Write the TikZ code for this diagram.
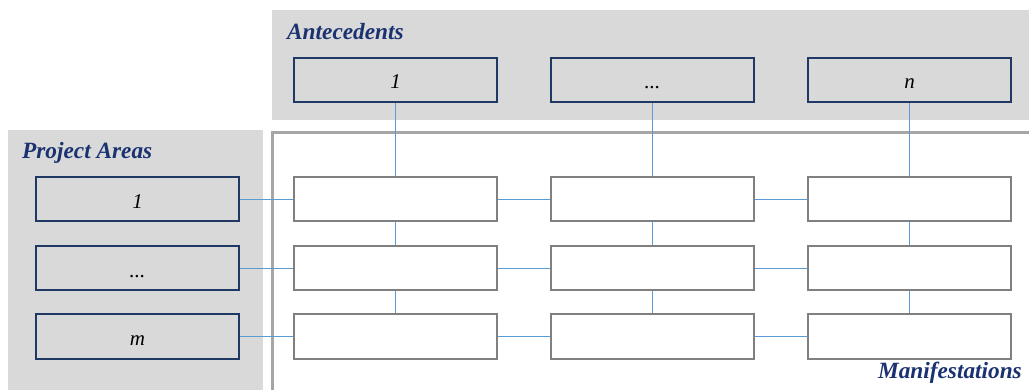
\documentclass[tikz,border=0pt]{standalone}
\usepackage{fontspec}
\setmainfont{Liberation Serif}
\definecolor{panelgrey}{HTML}{D9D9D9}
\definecolor{navy}{HTML}{1A3270}
\definecolor{boxnavy}{HTML}{1F3864}
\definecolor{framegrey}{HTML}{A6A6A6}
\definecolor{boxgrey}{HTML}{808080}
\definecolor{linkblue}{HTML}{5B9BD5}
\tikzset{
  panel/.style={fill=panelgrey, draw=none},
  itembox/.style={draw=boxnavy, line width=2pt, fill=panelgrey, minimum width=203pt, minimum height=44pt,
    inner sep=0pt, text height=18pt, text depth=0pt, font=\fontsize{21}{24}\selectfont\itshape},
  cellbox/.style={draw=boxgrey, line width=2pt, fill=white, minimum width=203pt, minimum height=44pt, inner sep=0pt},
  heading/.style={text=navy, font=\fontsize{23.3}{26}\selectfont\bfseries\itshape, inner sep=0pt},
  link/.style={draw=linkblue, line width=1pt}
}
\begin{document}
\begin{tikzpicture}[x=1pt, y=-1pt]
\useasboundingbox (0,0) rectangle (1029,390);
\clip (0,0) rectangle (1029,390);

% background panels
\fill[panelgrey] (272,10) rectangle (1035,120);
\fill[panelgrey] (8,130) rectangle (263,400);

% manifestations frame (open to the right and bottom)
\draw[framegrey, line width=3pt] (272,400) -- (272,133) -- (1040,133);

% headings
\node[heading, anchor=base west] (hant) at (287,40) {Antecedents};
\node[heading, anchor=base west] (hproj) at (22,159) {Project Areas};
\node[heading, anchor=base east] (hman) at (1022,378) {Manifestations};

% antecedents
\node[itembox] (a1) at (395.5,80) {1};
\node[itembox] (a2) at (652.5,80) {...};
\node[itembox] (a3) at (909.5,80) {n};

% project areas
\node[itembox] (p1) at (137.5,199.5) {1};
\node[itembox] (p2) at (137.5,268.5) {...};
\node[itembox] (p3) at (137.5,336.5) {m};

% manifestation cells
\foreach \c/\x in {1/395.5, 2/652.5, 3/909.5}{
  \foreach \r/\y in {1/199.5, 2/268.5, 3/336.5}{
    \node[cellbox] (m\r\c) at (\x,\y) {};
  }
}

% vertical links
\foreach \c in {1,2,3}{
  \draw[link] (a\c.south) -- (m1\c.north);
  \draw[link] (m1\c.south) -- (m2\c.north);
  \draw[link] (m2\c.south) -- (m3\c.north);
}
% horizontal links
\foreach \r in {1,2,3}{
  \draw[link] (p\r.east) -- (m\r1.west);
  \draw[link] (m\r1.east) -- (m\r2.west);
  \draw[link] (m\r2.east) -- (m\r3.west);
}
\end{tikzpicture}
\end{document}
